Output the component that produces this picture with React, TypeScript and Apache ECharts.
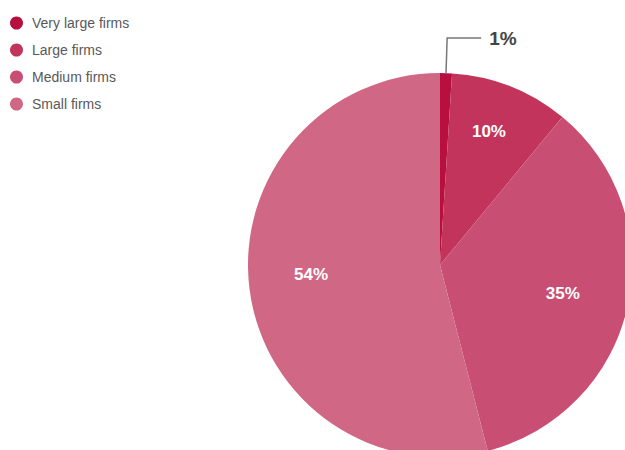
import React, { useEffect, useRef } from "react";
import * as echarts from "echarts";

const categories = ["Very large firms", "Large firms", "Medium firms", "Small firms"];
const values = [1, 10, 35, 54];
const colors = ["#b60f40", "#c2345c", "#c84f73", "#d06784"];
const labelOffsets = [
  [0, 0],
  [0, -10],
  [-7, -1],
  [3, -7],
];

export default function App() {
  const ref = useRef<HTMLDivElement>(null);
  useEffect(() => {
    if (!ref.current) return;
    const chart = echarts.init(ref.current, null, { renderer: "svg" });
    const data = categories.map((name, i) => ({
      name,
      value: values[i],
      itemStyle: { color: colors[i] },
    }));
    chart.setOption({
      animation: false,
      legend: {
        orient: "vertical",
        left: 5,
        top: 11,
        icon: "circle",
        itemWidth: 13,
        itemHeight: 13,
        itemGap: 13,
        selectedMode: false,
        data: categories,
        textStyle: {
          fontFamily: "Liberation Sans, Arial, sans-serif",
          fontSize: 14,
          color: "#595959",
          padding: [0, 0, 0, 4],
        },
      },
      series: [
        {
          type: "pie",
          center: [440, 265],
          radius: [0, 192],
          startAngle: 90,
          clockwise: true,
          silent: true,
          avoidLabelOverlap: false,
          itemStyle: { borderWidth: 0 },
          label: { show: false },
          labelLine: { show: false },
          data: data.map((d, i) =>
            i === 0
              ? {
                  ...d,
                  label: {
                    show: true,
                    position: "outside",
                    formatter: "{c}%",
                    fontFamily: "Liberation Sans, Arial, sans-serif",
                    fontSize: 19,
                    fontWeight: "bold",
                    color: "#444444",
                    padding: [0, 0, 0, 3],
                  },
                  labelLine: {
                    show: true,
                    length: 35,
                    length2: 34,
                    lineStyle: { color: "#777777", width: 1.5 },
                  },
                }
              : d
          ),
        },
        {
          type: "pie",
          center: [440, 265],
          radius: [0, 260],
          startAngle: 90,
          clockwise: true,
          silent: true,
          legendHoverLink: false,
          itemStyle: { color: "transparent", borderWidth: 0 },
          label: {
            show: true,
            position: "inside",
            formatter: "{c}%",
            fontFamily: "Liberation Sans, Arial, sans-serif",
            fontSize: 17,
            fontWeight: "bold",
            color: "#ffffff",
          },
          labelLine: { show: false },
          data: categories.map((name, i) => ({
            name: name + " ",
            value: values[i],
            label: { show: i !== 0, offset: labelOffsets[i] },
          })),
        },
      ],
    });
    return () => chart.dispose();
  }, []);
  return (
    <div
      ref={ref}
      style={{ position: "fixed", left: 0, top: 0, width: 625, height: 450, background: "#ffffff" }}
    />
  );
}
